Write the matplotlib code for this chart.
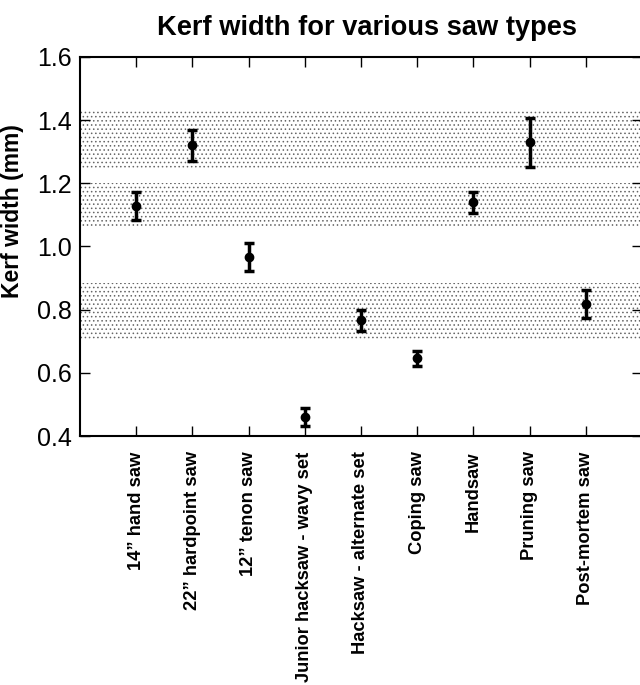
import matplotlib
matplotlib.use("Agg")
import matplotlib.pyplot as plt
import numpy as np

plt.rcParams['font.family'] = ['Liberation Sans', 'DejaVu Sans']
plt.rcParams['hatch.color'] = '#555555'
plt.rcParams['hatch.linewidth'] = 0.6

categories = ['14\u201d hand saw', '22\u201d hardpoint saw', '12\u201d tenon saw',
              'Junior hacksaw - wavy set', 'Hacksaw - alternate set', 'Coping saw',
              'Handsaw', 'Pruning saw', 'Post-mortem saw']
kerf_mean = [1.128, 1.320, 0.967, 0.460, 0.767, 0.646, 1.140, 1.330, 0.818]
kerf_err = [0.044, 0.048, 0.043, 0.029, 0.033, 0.024, 0.033, 0.078, 0.044]
bands = [(1.247, 1.430), (1.060, 1.200), (0.706, 0.883)]
yticks = [0.4, 0.6, 0.8, 1.0, 1.2, 1.4, 1.6]

fig = plt.figure(figsize=(6.4, 6.85), dpi=100)
ax = fig.add_axes([0.125, 0.3635, 0.878, 0.5533])

x = np.arange(1, len(categories) + 1)
for lo, hi in bands:
    ax.axhspan(lo, hi, facecolor='white', edgecolor='#666666', hatch='....', linewidth=0, zorder=0)

ax.errorbar(x, kerf_mean, yerr=kerf_err, fmt='o', color='black', markersize=6,
            elinewidth=2.5, capsize=3.5, capthick=2.5, zorder=3)

ax.set_xlim(0, 10)
ax.set_ylim(0.4, 1.6)
ax.set_yticks(yticks)
ax.set_yticklabels(['%.1f' % v for v in yticks], fontsize=18)
ax.set_xticks(x)
ax.set_xticklabels(categories, rotation=90, fontsize=13.2, fontweight='bold')
ax.tick_params(axis='both', direction='in', length=7, width=1, top=True, right=True, pad=6)
ax.tick_params(axis='x', pad=11)
for s in ax.spines.values():
    s.set_linewidth(1.5)
ax.set_ylabel('Kerf width (mm)', fontsize=16.5, fontweight='bold')
ax.yaxis.set_label_coords(-0.1, 0.594)
ax.set_title('Kerf width for various saw types', fontsize=19.6, fontweight='bold', pad=16, x=0.511)

fig.savefig('out.png', dpi=100)
